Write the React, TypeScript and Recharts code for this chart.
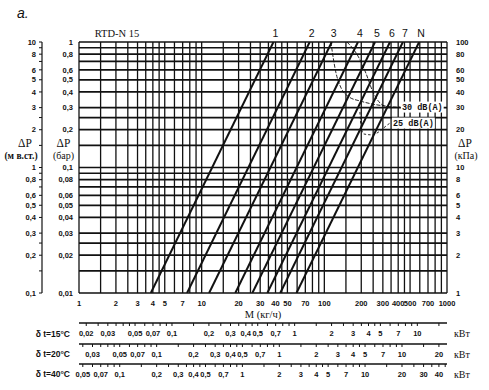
import { ComposedChart, Line, XAxis, YAxis, CartesianGrid, ReferenceDot, Label } from 'recharts';

const SANS = "'Liberation Sans', Arial, Helvetica, sans-serif";
const SERIF = "'Liberation Serif', 'Times New Roman', serif";
const MONO = "'Liberation Mono', 'Courier New', monospace";
const INK = '#111';

// valve characteristics: flow (kg/h) at dP = 1 bar and at dP = 0.01 bar
const valves = ['1', '2', '3', '4', '5', '6', '7', 'N'];
const flowAt1bar = [38.5, 76, 115, 188, 259, 343, 437, 593];
const flowAt001bar = [3.85, 7.6, 11.5, 18.8, 25.9, 34.3, 43.7, 59.3];

// noise limit curves (flow kg/h, dP bar)
const noise30aM = [113, 124, 137, 159, 195, 244, 312, 383, 413];
const noise30aP = [1, 0.577, 0.43, 0.365, 0.339, 0.321, 0.309, 0.303, 0.303];
const noise30bM = [153, 188, 218, 249, 284, 330];
const noise30bP = [1, 0.773, 0.566, 0.4, 0.327, 0.303];
const noise25M = [195, 199, 210, 244, 284, 318, 343];
const noise25P = [0.277, 0.214, 0.185, 0.182, 0.195, 0.214, 0.226];

// tick labels
const mLabels = [1, 2, 3, 4, 5, 7, 10, 20, 30, 40, 50, 70, 100, 200, 300, 400, 500, 700, 1000];
const barLabels = [0.01, 0.02, 0.03, 0.04, 0.05, 0.06, 0.08, 0.1, 0.2, 0.3, 0.4, 0.5, 0.6, 0.8, 1];
const waterLabels = [0.1, 0.2, 0.3, 0.4, 0.5, 0.6, 0.8, 1, 2, 3, 4, 5, 6, 8, 10];
const kpaLabels = [1, 2, 3, 4, 5, 6, 8, 10, 20, 30, 40, 50, 60, 80, 100];
const q15Labels = [0.02, 0.03, 0.05, 0.07, 0.1, 0.2, 0.3, 0.4, 0.5, 0.7, 1, 2, 3, 4, 5, 7, 10];
const q20Labels = [0.03, 0.05, 0.07, 0.1, 0.2, 0.3, 0.4, 0.5, 0.7, 1, 2, 3, 4, 5, 7, 10, 20];
const q40Labels = [0.05, 0.07, 0.1, 0.2, 0.3, 0.4, 0.5, 0.7, 1, 2, 3, 4, 5, 7, 10, 20, 30, 40];

const dtValues = [15, 20, 40];
const qLabelSets = [q15Labels, q20Labels, q40Labels];
const waterHeat = 4.19; // kJ/(kg K)

const xMant = [1, 1.5, 2, 2.5, 3, 3.5, 4, 4.5, 5, 6, 7, 8, 9];
const yMant = [1, 1.5, 2, 2.5, 3, 4, 5, 6, 7, 8, 9];

function logTicks(lo: number, hi: number, mant: number[]) {
  const out: number[] = [];
  for (let e = Math.floor(Math.log10(lo)) - 1; e <= Math.ceil(Math.log10(hi)); e++) {
    for (const k of mant) {
      const v = +(k * Math.pow(10, e)).toPrecision(6);
      if (v >= lo * 0.9999 && v <= hi * 1.0001) out.push(v);
    }
  }
  return out;
}

const findLabel = (list: number[], v: number) => list.find((l) => Math.abs(l - v) <= l * 1e-6);
const fmt = (v: number) => String(v).replace('.', ',');

const makeTick = (labels: number[], anchor: 'start' | 'middle' | 'end', dy: number) => (props: any) => {
  const { x, y, payload } = props;
  const l = findLabel(labels, payload.value);
  if (l === undefined) return <g />;
  return (
    <text x={x} y={y} dy={dy} textAnchor={anchor} fontSize={7.5} fontWeight={700} fontFamily={SANS} fill={INK}>
      {fmt(l)}
    </text>
  );
};

// label with white backing, like the pasted-on noise labels
const boxedLabel = (text: string, gap: number) => (props: any) => {
  const { cx, cy } = props;
  return (
    <g>
      <rect x={cx + gap - 1} y={cy - 5.5} width={text.length * 5.1 + 2} height={11} fill="#fff" />
      <text x={cx + gap} y={cy} dy={3} fontSize={8.5} fontWeight={700} fontFamily={MONO} fill={INK}>
        {text}
      </text>
    </g>
  );
};

const valveData = valves.map((_, i) => [
  { m: flowAt001bar[i], p: 0.01 },
  { m: flowAt1bar[i], p: 1 },
]);
const zip = (ms: number[], ps: number[]) => ms.map((m, i) => ({ m, p: ps[i] }));

export default function App() {
  return (
    <div style={{ position: 'absolute', left: 0, top: 0, width: 489, height: 390, background: '#fff' }}>
      <ComposedChart width={489} height={390} margin={{ top: 42, right: 0, bottom: 6, left: 0 }}>
        <CartesianGrid xAxisId="x0m" yAxisId="bar" vertical={false} stroke={INK} strokeWidth={1.7} />
        <CartesianGrid xAxisId="x0m" yAxisId="bar" horizontal={false} stroke={INK} strokeWidth={1.3} />

        <XAxis
          xAxisId="x0m"
          dataKey="m"
          type="number"
          scale="log"
          domain={[1, 1000]}
          allowDataOverflow
          ticks={logTicks(1, 1000, xMant)}
          interval={0}
          tickLine={false}
          axisLine={false}
          tickSize={0}
          tickMargin={0}
          height={30}
          tick={makeTick(mLabels, 'middle', 13)}
        >
          <Label value="M  (кг/ч)" position="insideBottom" offset={5} fontSize={10.5} fontFamily={SERIF} fill={INK} />
        </XAxis>
        {dtValues.map((dt, i) => {
          const f = (waterHeat * dt) / 3600;
          return (
            <XAxis
              key={dt}
              xAxisId={'x' + (i + 1) + 'dt' + dt}
              dataKey="q"
              type="number"
              scale="log"
              domain={[f, f * 1000]}
              allowDataOverflow
              ticks={logTicks(f, f * 1000, xMant)}
              interval={0}
              tickSize={3}
              tickMargin={2}
              tickLine={{ stroke: INK }}
              axisLine={{ stroke: INK, strokeWidth: 1.3 }}
              height={i === 0 ? 21 : 20}
              tick={makeTick(qLabelSets[i], 'middle', 8)}
            >
              <Label value={`δ t=${dt}°C`} position="left" offset={9} fontSize={8.5} fontWeight={700} fontFamily={SANS} fill={INK} />
              <Label value="кВт" position="right" offset={7} fontSize={10} fontFamily={SERIF} fill={INK} />
            </XAxis>
          );
        })}

        <YAxis
          yAxisId="bar"
          dataKey="p"
          type="number"
          scale="log"
          domain={[0.01, 1]}
          allowDataOverflow
          ticks={logTicks(0.01, 1, yMant)}
          interval={0}
          width={37}
          tickLine={false}
          axisLine={false}
          tickSize={0}
          tickMargin={6}
          tick={makeTick(barLabels, 'end', 2.7)}
        />
        <YAxis
          yAxisId="water"
          type="number"
          scale="log"
          domain={[0.1, 10]}
          allowDataOverflow
          ticks={logTicks(0.1, 10, yMant)}
          interval={0}
          width={42}
          tickSize={3}
          tickMargin={3}
          tickLine={{ stroke: INK }}
          axisLine={{ stroke: INK, strokeWidth: 1.2 }}
          tick={makeTick(waterLabels, 'end', 2.7)}
        />
        <YAxis
          yAxisId="kpa"
          orientation="right"
          type="number"
          scale="log"
          domain={[1, 100]}
          allowDataOverflow
          ticks={kpaLabels}
          interval={0}
          width={42}
          tickLine={false}
          axisLine={false}
          tickSize={0}
          tickMargin={9}
          tick={makeTick(kpaLabels, 'start', 2.7)}
        />

        {/* invisible carriers so each heat-output scale gets its domain */}
        {dtValues.map((dt, i) => {
          const f = (waterHeat * dt) / 3600;
          return (
            <Line
              key={'carrier' + dt}
              xAxisId={'x' + (i + 1) + 'dt' + dt}
              yAxisId="bar"
              data={[{ q: f, p: 0.01 }, { q: f * 1000, p: 0.01 }]}
              dataKey="p"
              stroke="none"
              dot={false}
              legendType="none"
              isAnimationActive={false}
            />
          );
        })}

        {valveData.map((d, i) => (
          <Line
            key={valves[i]}
            xAxisId="x0m"
            yAxisId="bar"
            data={d}
            dataKey="p"
            type="linear"
            stroke={INK}
            strokeWidth={2}
            dot={false}
            isAnimationActive={false}
          />
        ))}
        <Line xAxisId="x0m" yAxisId="bar" data={zip(noise30aM, noise30aP)} dataKey="p" type="monotone" stroke={INK} strokeWidth={0.9} strokeDasharray="4 1.5" dot={false} isAnimationActive={false} />
        <Line xAxisId="x0m" yAxisId="bar" data={zip(noise30bM, noise30bP)} dataKey="p" type="monotone" stroke={INK} strokeWidth={0.9} strokeDasharray="4 1.5" dot={false} isAnimationActive={false} />
        <Line xAxisId="x0m" yAxisId="bar" data={zip(noise25M, noise25P)} dataKey="p" type="monotone" stroke={INK} strokeWidth={0.9} strokeDasharray="2.5 2" dot={false} isAnimationActive={false} />

        {valves.map((name, i) => (
          <ReferenceDot
            key={'lbl' + name}
            xAxisId="x0m"
            yAxisId="bar"
            x={flowAt1bar[i]}
            y={1}
            r={0}
            fill="none"
            stroke="none"
            ifOverflow="visible"
            label={{ value: name, position: 'top', offset: 5, dx: 2, fill: INK, fontSize: 10.5, fontFamily: SANS }}
          />
        ))}
        <ReferenceDot xAxisId="x0m" yAxisId="bar" x={noise30aM[noise30aM.length - 1]} y={0.303} r={1} ifOverflow="visible"
          shape={boxedLabel('30 dB(A)', 2)} />
        <ReferenceDot xAxisId="x0m" yAxisId="bar" x={noise25M[noise25M.length - 1]} y={0.226} r={1} ifOverflow="visible"
          shape={boxedLabel('25 dB(A)', 3)} />
      </ComposedChart>

      <svg width={489} height={390} style={{ position: 'absolute', left: 0, top: 0, pointerEvents: 'none' }}>
        <text x={17} y={17.5} fontSize={14} fontStyle="italic" fontFamily={SANS} fill={INK}>a.</text>
        <text x={117} y={37} textAnchor="middle" fontSize={10.5} fontFamily={SERIF} fill={INK}>RTD-N 15</text>
        <g fontFamily={SERIF} fill={INK} textAnchor="middle">
          <text x={25} y={147} fontSize={11.5}>ΔP</text>
          <text x={21} y={158.5} fontSize={9.5} fontWeight={700}>(м в.ст.)</text>
          <text x={63.5} y={147} fontSize={11.5}>ΔP</text>
          <text x={63.5} y={158.5} fontSize={10}>(бар)</text>
          <text x={465} y={147} fontSize={11.5}>ΔP</text>
          <text x={466} y={158.5} fontSize={10}>(кПа)</text>
        </g>
      </svg>
    </div>
  );
}
